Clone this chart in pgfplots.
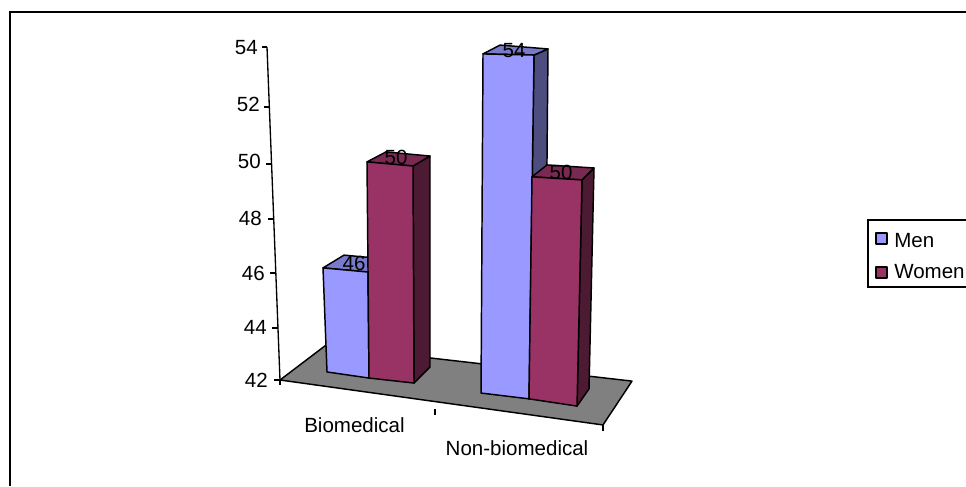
\documentclass[border=0pt]{standalone}
\usepackage{fontspec}
\setmainfont{Liberation Sans}
\usepackage{pgfplots}
\pgfplotsset{compat=1.18}

\definecolor{men}{HTML}{9999FF}
\definecolor{mentop}{HTML}{7A7ACC}
\definecolor{menside}{HTML}{4D4D80}
\definecolor{women}{HTML}{993366}
\definecolor{womentop}{HTML}{7A2952}
\definecolor{womenside}{HTML}{4D1A33}

\tikzset{
  face/.style={draw=black, line width=1.1pt, line join=round, fill=#1},
  tickline/.style={draw=black, line width=1pt},
  numlabel/.style={anchor=base east, yshift=-5.5pt, font=\fontsize{15.4}{18}\selectfont, inner sep=0pt},
  vallabel/.style={anchor=base, yshift=-5.5pt, font=\fontsize{15.4}{18}\selectfont, inner sep=0pt},
  txtlabel/.style={anchor=base, font=\fontsize{15.4}{18}\selectfont, inner sep=0pt},
}

\begin{document}
\begin{tikzpicture}
\path[use as bounding box] (0,0) rectangle (724.5pt,364.5pt);
% x is in picture units, y in value units; the bars lean because the original is a 3D view
\begin{axis}[
  at={(0,0)}, anchor=south west,
  scale only axis, width=724.5pt, height=364.5pt,
  xmin=0, xmax=966, ymin=38.18, ymax=55.694,
  hide axis,
]
% chart frame, runs off the page on the right and at the bottom
\addplot[draw=black, line width=1.5pt] coordinates {(9.5,38.18) (9.5,55.26) (970,55.26)};

% floor
\addplot[face=gray] coordinates {(280,42) (325,43.23) (632,41.96) (603,40.38)} --cycle;

% value axis
\addplot[tickline] coordinates {(267,54) (280,42)};
\addplot[tickline] coordinates {(262,54) (267,54)};
\addplot[tickline] coordinates {(264,51.84) (269.3,51.84)};
\addplot[tickline] coordinates {(266,49.78) (271.6,49.78)};
\addplot[tickline] coordinates {(268,47.80) (273.7,47.80)};
\addplot[tickline] coordinates {(270,45.86) (275.8,45.86)};
\addplot[tickline] coordinates {(272,43.87) (278,43.87)};
\addplot[tickline] coordinates {(274,42) (280,42)};

% category ticks
\addplot[tickline] coordinates {(280,42) (280,41.82)};
\addplot[tickline] coordinates {(435,40.95) (435,40.73)};
\addplot[tickline] coordinates {(603,40.38) (603,40.16)};

% Biomedical, Men 46
\addplot[face=mentop] coordinates {(323,46.04) (344,46.50) (386,46.36) (368,45.89)} --cycle;
\addplot[face=men] coordinates {(323,46.04) (368,45.89) (369,42.07) (327,42.29)} --cycle;
% Biomedical, Women 50
\addplot[face=womenside] coordinates {(413,49.71) (430,50.07) (430,42.47) (414,41.89)} --cycle;
\addplot[face=womentop] coordinates {(367,49.86) (386,50.22) (430,50.07) (413,49.71)} --cycle;
\addplot[face=women] coordinates {(367,49.86) (413,49.71) (414,41.89) (369,42.07)} --cycle;
% Non-biomedical, Men 54
\addplot[face=menside] coordinates {(534,53.71) (548,53.93) (545,42) (529,41.32)} --cycle;
\addplot[face=mentop] coordinates {(483,53.75) (500,54.07) (548,53.93) (534,53.71)} --cycle;
\addplot[face=men] coordinates {(483,53.75) (534,53.71) (529,41.32) (481,41.53)} --cycle;
% Non-biomedical, Women 50
\addplot[face=womenside] coordinates {(582,49.21) (594,49.64) (589,41.68) (577,41.06)} --cycle;
\addplot[face=womentop] coordinates {(532,49.32) (547,49.75) (594,49.64) (582,49.21)} --cycle;
\addplot[face=women] coordinates {(532,49.32) (582,49.21) (577,41.06) (529,41.32)} --cycle;

% value labels on the bar tops
\node[vallabel] at (axis cs:354,46.22) {46};
\node[vallabel] at (axis cs:396,50.04) {50};
\node[vallabel] at (axis cs:514,53.90) {54};
\node[vallabel] at (axis cs:561,49.50) {50};

% tick labels
\node[numlabel] at (axis cs:258,54) {54};
\node[numlabel] at (axis cs:260,51.95) {52};
\node[numlabel] at (axis cs:261,49.89) {50};
\node[numlabel] at (axis cs:262,47.84) {48};
\node[numlabel] at (axis cs:265,45.86) {46};
\node[numlabel] at (axis cs:267,43.91) {44};
\node[numlabel] at (axis cs:268,42) {42};
\node[txtlabel] at (axis cs:354.5,40.10) {Biomedical};
\node[txtlabel] at (axis cs:517,39.27) {Non-biomedical};

% legend
\addplot[draw=black, line width=1.1pt, fill=white] coordinates {(868,47.77) (975,47.77) (975,45.35) (868,45.35)} --cycle;
\addplot[face=men] coordinates {(876,47.30) (887,47.30) (887,46.90) (876,46.90)} --cycle;
\addplot[face=women] coordinates {(876,46.07) (887,46.07) (887,45.68) (876,45.68)} --cycle;
\node[txtlabel, anchor=base west] at (axis cs:894,46.79) {Men};
\node[txtlabel, anchor=base west] at (axis cs:894,45.64) {Women};
\end{axis}
\end{tikzpicture}
\end{document}
